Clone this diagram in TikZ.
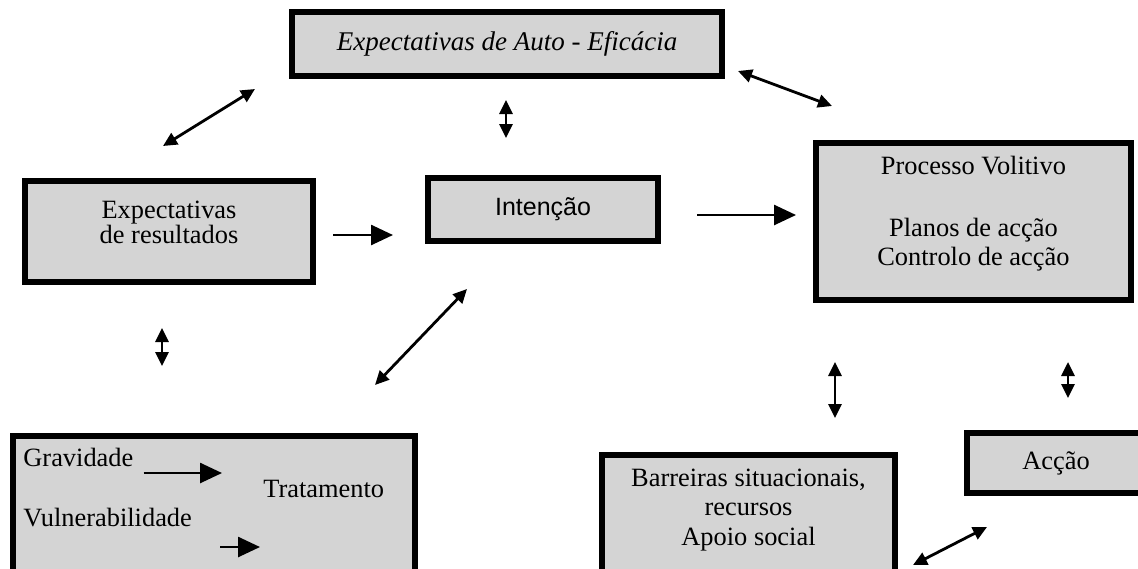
\documentclass[tikz,border=0pt]{standalone}
\usepackage{fontspec}
\setmainfont{Liberation Serif}
\newfontfamily\arialfont{Liberation Sans}
\usetikzlibrary{arrows.meta}

\begin{document}
\begin{tikzpicture}[x=0.5pt,y=-0.5pt,
    box/.style={draw,line width=2.9pt,fill=black!17,inner sep=3pt,align=center,
      font=\fontsize{13.2}{14.75}\selectfont},
    txt/.style={inner sep=0pt,font=\fontsize{13.2}{14.75}\selectfont},
    link/.style={line width=1.4pt,{Triangle[length=7pt,width=6.5pt]}-{Triangle[length=7pt,width=6.5pt]}},
    push/.style={line width=1.3pt,-{Triangle[length=11pt,width=10pt]}}]

    % Frame
    \useasboundingbox (0,0) rectangle (1138,568);
    \clip (0,0) rectangle (1138,568);

    % Boxes
    \node[box,minimum width=215pt,minimum height=32pt,font=\fontsize{13.5}{15}\selectfont\itshape] (auto) at (507,44) {Expectativas de Auto - Eficácia};
    \node[box,anchor=north,minimum width=144pt,inner ysep=10pt,text depth=9.5pt,font=\fontsize{13.2}{12.5}\selectfont] (res) at (169,178) {Expectativas\\de resultados};
    \node[box,minimum width=115pt,minimum height=31.5pt,font=\fontsize{12.5}{14}\selectfont\arialfont] (int) at (543,209.5) {Intenção};
    \node[box,anchor=north west,minimum width=157.5pt,inner ysep=6.5pt,text depth=10.5pt] (vol) at (813,140) {Processo Volitivo\\[16.25pt]Planos de acção\\Controlo de acção};
    \node[box,minimum width=89pt,minimum height=30pt] (accao) at (1056,463) {Acção};
    \node[box,anchor=north,minimum width=146.5pt,inner ysep=7pt,text depth=40pt] (barr) at (748.5,452) {Barreiras situacionais,\\recursos\\Apoio social};
    \node[box,anchor=north west,minimum width=201pt,minimum height=90pt] (sympt) at (10,433) {};

    % Inside the lower left box
    \node[txt,anchor=base west] (grav) at (23,466) {Gravidade};
    \node[txt,anchor=base west] (trat) at (263,497) {Tratamento};
    \node[txt,anchor=base west] (vuln) at (23,526) {Vulnerabilidade};
    \coordinate (gravend) at (222,473);
    \coordinate (vulnstart) at (220,547);
    \coordinate (vulnend) at (260,547);
    \draw[push,shorten <=5pt] (grav.east |- gravend) -- (gravend);
    \draw[push] (vulnstart) -- (vulnend);

    % Arrow ends
    \coordinate (resup) at (163,146);
    \coordinate (autoleft) at (255,89);
    \coordinate (autodown) at (506,100);
    \coordinate (intup) at (506,138);
    \coordinate (autoright) at (738,71);
    \coordinate (volleft) at (832,106);
    \coordinate (resright) at (333,235);
    \coordinate (intleft) at (393,235);
    \coordinate (intright) at (697,215);
    \coordinate (volin) at (796,215);
    \coordinate (resdown) at (162,328);
    \coordinate (symptup) at (162,366);
    \coordinate (symptright) at (375,385);
    \coordinate (intdown) at (467,289);
    \coordinate (voldown) at (835,362);
    \coordinate (barrup) at (835,418);
    \coordinate (volright) at (1068,362);
    \coordinate (accaoup) at (1068,398);
    \coordinate (barrright) at (913,565);
    \coordinate (accaodown) at (987,527);

    % Arrows
    \draw[link] (resup) -- (autoleft);
    \draw[link] (autodown) -- (intup);
    \draw[link] (autoright) -- (volleft);
    \draw[push] (resright) -- (intleft);
    \draw[push] (intright) -- (volin);
    \draw[link] (resdown) -- (symptup);
    \draw[link] (symptright) -- (intdown);
    \draw[link] (voldown) -- (barrup);
    \draw[link] (volright) -- (accaoup);
    \draw[link] (barrright) -- (accaodown);
\end{tikzpicture}
\end{document}
